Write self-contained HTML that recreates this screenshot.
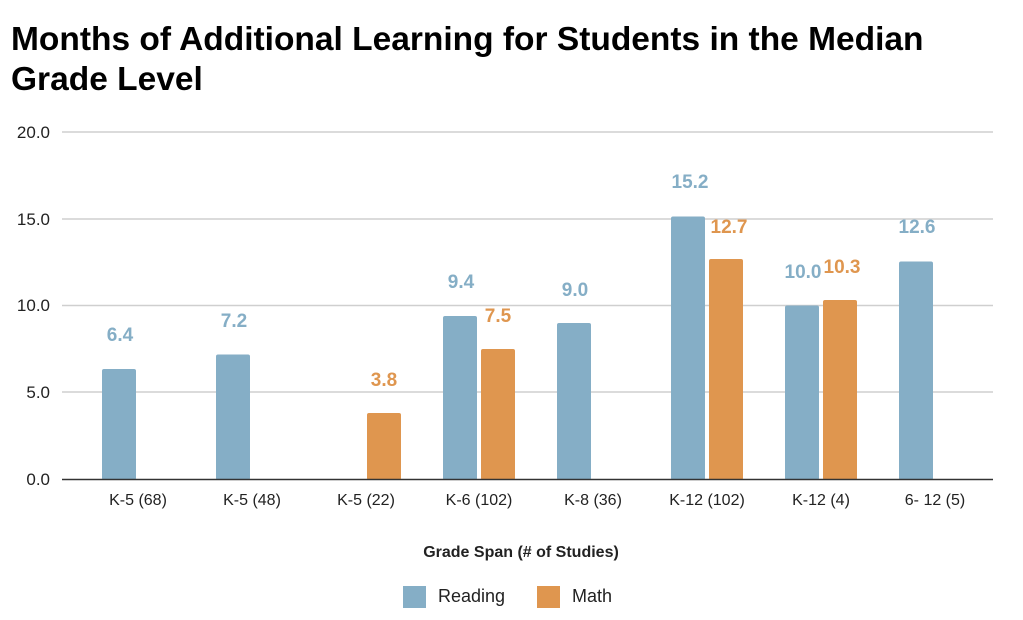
<!DOCTYPE html>
<html><head><style>body{margin:0;background:#fff}svg{display:block}</style></head><body>
<svg width="1023" height="620" xmlns="http://www.w3.org/2000/svg" font-family="Liberation Sans, sans-serif">
<text x="11" y="50" font-size="33.5" font-weight="bold" fill="#000">Months of Additional Learning for Students in the Median</text>
<text x="11" y="90" font-size="33.5" font-weight="bold" fill="#000">Grade Level</text>
<g stroke="#cfcfcf" stroke-width="1.5">
<line x1="62" x2="993" y1="132" y2="132"/><line x1="62" x2="993" y1="219" y2="219"/><line x1="62" x2="993" y1="305.5" y2="305.5"/><line x1="62" x2="993" y1="392" y2="392"/>
</g>
<g font-size="17" fill="#222" text-anchor="end">
<text x="50" y="138">20.0</text><text x="50" y="225">15.0</text><text x="50" y="311">10.0</text><text x="50" y="398">5.0</text><text x="50" y="485">0.0</text>
</g>
<g fill="#85aec6">
<rect x="102" y="369" width="34" height="111" rx="2"/>
<rect x="216" y="354.5" width="34" height="125.5" rx="2"/>
<rect x="443" y="316" width="34" height="164" rx="2"/>
<rect x="557" y="323" width="34" height="157" rx="2"/>
<rect x="671" y="216.5" width="34" height="263.5" rx="2"/>
<rect x="785" y="305.5" width="34" height="174.5" rx="2"/>
<rect x="899" y="261.5" width="34" height="218.5" rx="2"/>
</g>
<g fill="#df964f">
<rect x="367" y="413" width="34" height="67" rx="2"/>
<rect x="481" y="349" width="34" height="131" rx="2"/>
<rect x="709" y="259" width="34" height="221" rx="2"/>
<rect x="823" y="300" width="34" height="180" rx="2"/>
</g>
<line x1="62" x2="993" y1="479.5" y2="479.5" stroke="#333" stroke-width="1.5"/>
<g font-size="19" font-weight="bold" text-anchor="middle" fill="#85aec6">
<text x="120" y="341">6.4</text><text x="234" y="327">7.2</text><text x="461" y="288">9.4</text><text x="575" y="296">9.0</text><text x="690" y="188">15.2</text><text x="803" y="278">10.0</text><text x="917" y="233">12.6</text>
</g>
<g font-size="19" font-weight="bold" text-anchor="middle" fill="#df964f">
<text x="384" y="386">3.8</text><text x="498" y="322">7.5</text><text x="729" y="233">12.7</text><text x="842" y="273">10.3</text>
</g>
<g font-size="16" fill="#222" text-anchor="middle">
<text x="138" y="505">K-5 (68)</text><text x="252" y="505">K-5 (48)</text><text x="366" y="505">K-5 (22)</text><text x="479" y="505">K-6 (102)</text><text x="593" y="505">K-8 (36)</text><text x="707" y="505">K-12 (102)</text><text x="821" y="505">K-12 (4)</text><text x="935" y="505">6- 12 (5)</text>
</g>
<text x="521" y="557" font-size="16" font-weight="bold" text-anchor="middle" fill="#222">Grade Span (# of Studies)</text>
<rect x="403" y="586" width="23" height="22" fill="#85aec6"/>
<text x="438" y="602" font-size="18" fill="#222">Reading</text>
<rect x="537" y="586" width="23" height="22" fill="#df964f"/>
<text x="572" y="602" font-size="18" fill="#222">Math</text>
</svg>
</body></html>
